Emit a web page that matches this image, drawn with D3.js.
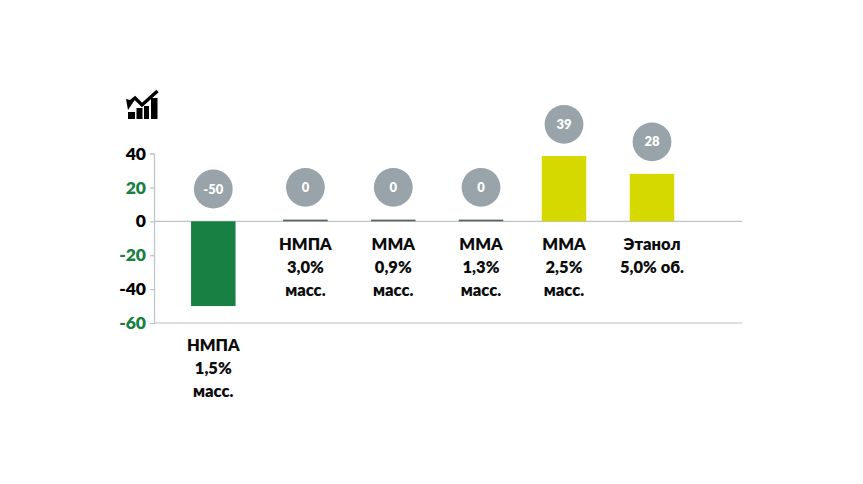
<!DOCTYPE html>
<html><head><meta charset="utf-8">
<script src="https://cdn.jsdelivr.net/npm/d3@7"></script>
<style>html,body{margin:0;background:#fff}svg{display:block}text{font-family:Lato,"Open Sans","Noto Sans",sans-serif;font-weight:800}</style>
</head><body><svg id="c" width="863" height="484"></svg>
<script>
const categories = [["НМПА","1,5%","масс."],["НМПА","3,0%","масс."],["ММА","0,9%","масс."],["ММА","1,3%","масс."],["ММА","2,5%","масс."],["Этанол","5,0% об."]];
const centers = [213.3, 305.4, 393.3, 481, 564, 652];
const values = [-50, 1, 1, 1, 38.5, 28];
const labels = ["-50","0","0","0","39","28"];
const barColors = ["#188042","#5a6663","#5a6663","#5a6663","#d6d900","#d6d900"];
const yTicks = [40,20,0,-20,-40,-60];
const tickColors = ["#000","#188042","#000","#188042","#000","#188042"];
const bubbleY = [189,187.3,187.3,187.3,124.3,141.8];
const catY = [350.5,249.5,249.5,249.5,249.5,249.5];

const svg = d3.select("#c");
const y = d3.scaleLinear().domain([-60,40]).range([323,153.5]);
const x0 = 154, x1 = 742, barW = 44.5;
const axisCol = "#bcc2c5";

const yAxis = d3.axisLeft(y).tickValues(yTicks).tickSize(4).tickPadding(4).tickFormat(d=>String(d));
const gy = svg.append("g").attr("transform",`translate(${x0},0)`).call(yAxis);
gy.select(".domain").attr("stroke",axisCol).attr("stroke-width",1.2);
gy.selectAll("line").attr("stroke",axisCol).attr("stroke-width",1.2);
gy.selectAll("text").attr("font-size",17.5).attr("fill",(d,i)=>tickColors[i]).style("font-family",'Lato,"Open Sans",sans-serif').style("font-weight",800);

[0,-60].forEach(v=>svg.append("line").attr("x1",x0).attr("x2",x1).attr("y1",y(v)).attr("y2",y(v)).attr("stroke",axisCol).attr("stroke-width",1.2));

svg.selectAll("rect.bar").data(values).join("rect").attr("class","bar")
 .attr("x",(d,i)=>centers[i]-barW/2).attr("width",barW)
 .attr("y",d=>y(Math.max(d,0))).attr("height",d=>Math.abs(y(d)-y(0)))
 .attr("fill",(d,i)=>barColors[i]);

svg.selectAll("circle.b").data(labels).join("circle").attr("class","b")
 .attr("cx",(d,i)=>centers[i]).attr("cy",(d,i)=>bubbleY[i]).attr("r",19.4).attr("fill","#98a3aa");
svg.selectAll("text.b").data(labels).join("text").attr("class","b")
 .attr("x",(d,i)=>centers[i]).attr("y",(d,i)=>bubbleY[i]+4.5).attr("text-anchor","middle")
 .attr("font-size",13).attr("fill","#fff").text(d=>d);

categories.forEach((lines,i)=>{
  const t = svg.append("text").attr("text-anchor","middle").attr("font-size",16.5).attr("fill","#0c0c0c");
  lines.forEach((s,k)=>t.append("tspan").attr("x",centers[i]).attr("y",catY[i]+k*23).text(s));
});

// icon
const ic = svg.append("g").attr("fill","#000");
[[128,112,7,7],[136.5,108,6,11],[144,106,5,13],[151,98,6.5,21]].forEach(r=>ic.append("rect").attr("x",r[0]).attr("y",r[1]).attr("width",r[2]).attr("height",r[3]));
ic.append("path").attr("d","M157.5 91 L142 105 L135 98 L130 102").attr("fill","none").attr("stroke","#000").attr("stroke-width",3.4);
ic.append("path").attr("d","M126 99 L134 101 L128 110 Z");
</script></body></html>
